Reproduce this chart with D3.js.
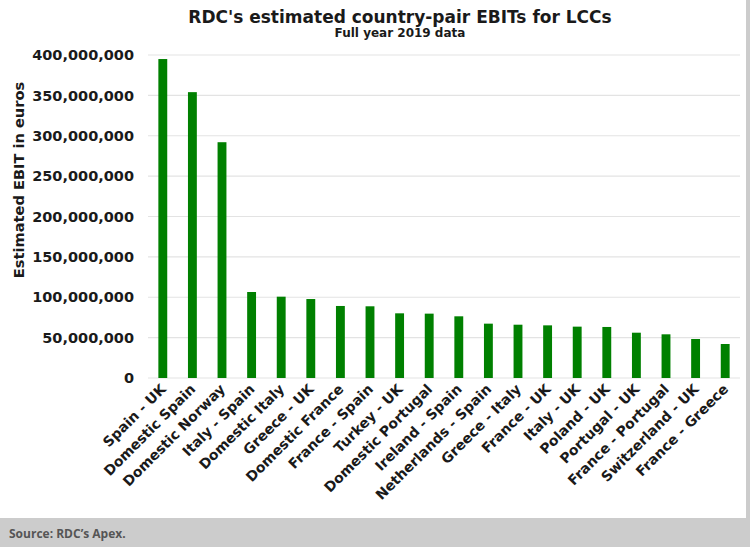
<!DOCTYPE html>
<html>
<head>
<meta charset="utf-8">
<script src="https://cdn.jsdelivr.net/npm/d3@7"></script>
<style>
  body { margin: 0; background: #cccccc; }
  svg { display: block; }
</style>
</head>
<body>
<div id="chart"></div>
<script>
// country pairs, sorted by EBIT
var pairs = ['Spain - UK', 'Domestic Spain', 'Domestic Norway', 'Italy - Spain', 'Domestic Italy',
  'Greece - UK', 'Domestic France', 'France - Spain', 'Turkey - UK', 'Domestic Portugal',
  'Ireland - Spain', 'Netherlands - Spain', 'Greece - Italy', 'France - UK', 'Italy - UK',
  'Poland - UK', 'Portugal - UK', 'France - Portugal', 'Switzerland - UK', 'France - Greece'];

// estimated EBIT in euros
var ebit = [395e6, 354e6, 292e6, 106.5e6, 100.7e6,
  97.8e6, 89.2e6, 88.8e6, 80.1e6, 79.7e6,
  76.4e6, 67.3e6, 66.0e6, 65.2e6, 63.6e6,
  63.2e6, 56.1e6, 54.1e6, 48.3e6, 42.1e6];

var yTicks = [0, 50e6, 100e6, 150e6, 200e6, 250e6, 300e6, 350e6, 400e6];

var W = 750, H = 547;
var pLeft = 148, pRight = 740, pTop = 55, pBottom = 378;
var font = 'DejaVu Sans, Verdana, sans-serif';

var svg = d3.select('#chart').append('svg')
  .attr('width', W).attr('height', H);

// white panel + grey source band
svg.append('rect').attr('x', 0).attr('y', 0).attr('width', 746).attr('height', 518).attr('fill', '#ffffff');

var x = d3.scaleBand().domain(pairs).range([pLeft, pRight]).paddingInner(0.7).paddingOuter(0.35);
var y = d3.scaleLinear().domain([0, 400e6]).range([pBottom, pTop]);

// grid
svg.append('g').selectAll('line').data(yTicks).enter().append('line')
  .attr('x1', pLeft).attr('x2', pRight)
  .attr('y1', function (d) { return y(d); }).attr('y2', function (d) { return y(d); })
  .attr('stroke', '#e3e3e3').attr('stroke-width', 1.2);

// y axis labels
var yAxis = d3.axisLeft(y).tickValues(yTicks).tickSize(0).tickPadding(0)
  .tickFormat(d3.format(','));
var gy = svg.append('g').attr('transform', 'translate(134,0)').call(yAxis);
gy.select('.domain').remove();
gy.selectAll('text').style('font', 'bold 14.5px ' + font).attr('fill', '#1a1a1a');

// bars
svg.append('g').selectAll('rect').data(pairs).enter().append('rect')
  .attr('x', function (d) { return x(d); })
  .attr('width', x.bandwidth())
  .attr('y', function (d, i) { return y(ebit[i]); })
  .attr('height', function (d, i) { return pBottom - y(ebit[i]); })
  .attr('fill', '#008000');

// x labels (rotated)
svg.append('g').selectAll('text').data(pairs).enter().append('text')
  .attr('transform', function (d) {
    return 'translate(' + (x(d) + x.bandwidth() / 2 + 4) + ',' + 390 + ') rotate(-45)';
  })
  .attr('text-anchor', 'end')
  .style('font', 'bold 14px ' + font)
  .attr('fill', '#1a1a1a')
  .text(function (d) { return d; });

// titles
svg.append('text').attr('x', 400).attr('y', 23).attr('text-anchor', 'middle')
  .style('font', 'bold 17px ' + font).attr('fill', '#1a1a1a')
  .text("RDC's estimated country-pair EBITs for LCCs");
svg.append('text').attr('x', 400).attr('y', 37).attr('text-anchor', 'middle')
  .style('font', 'bold 12px ' + font).attr('fill', '#1a1a1a')
  .text('Full year 2019 data');

svg.append('text')
  .attr('transform', 'translate(24,180) rotate(-90)')
  .attr('text-anchor', 'middle')
  .style('font', 'bold 14.6px ' + font).attr('fill', '#1a1a1a')
  .text('Estimated EBIT in euros');

// source
svg.append('text').attr('x', 9).attr('y', 538)
  .style('font', 'bold 12px "Open Sans", sans-serif').attr('fill', '#555555')
  .text('Source: RDC’s Apex.');
</script>
</body>
</html>
